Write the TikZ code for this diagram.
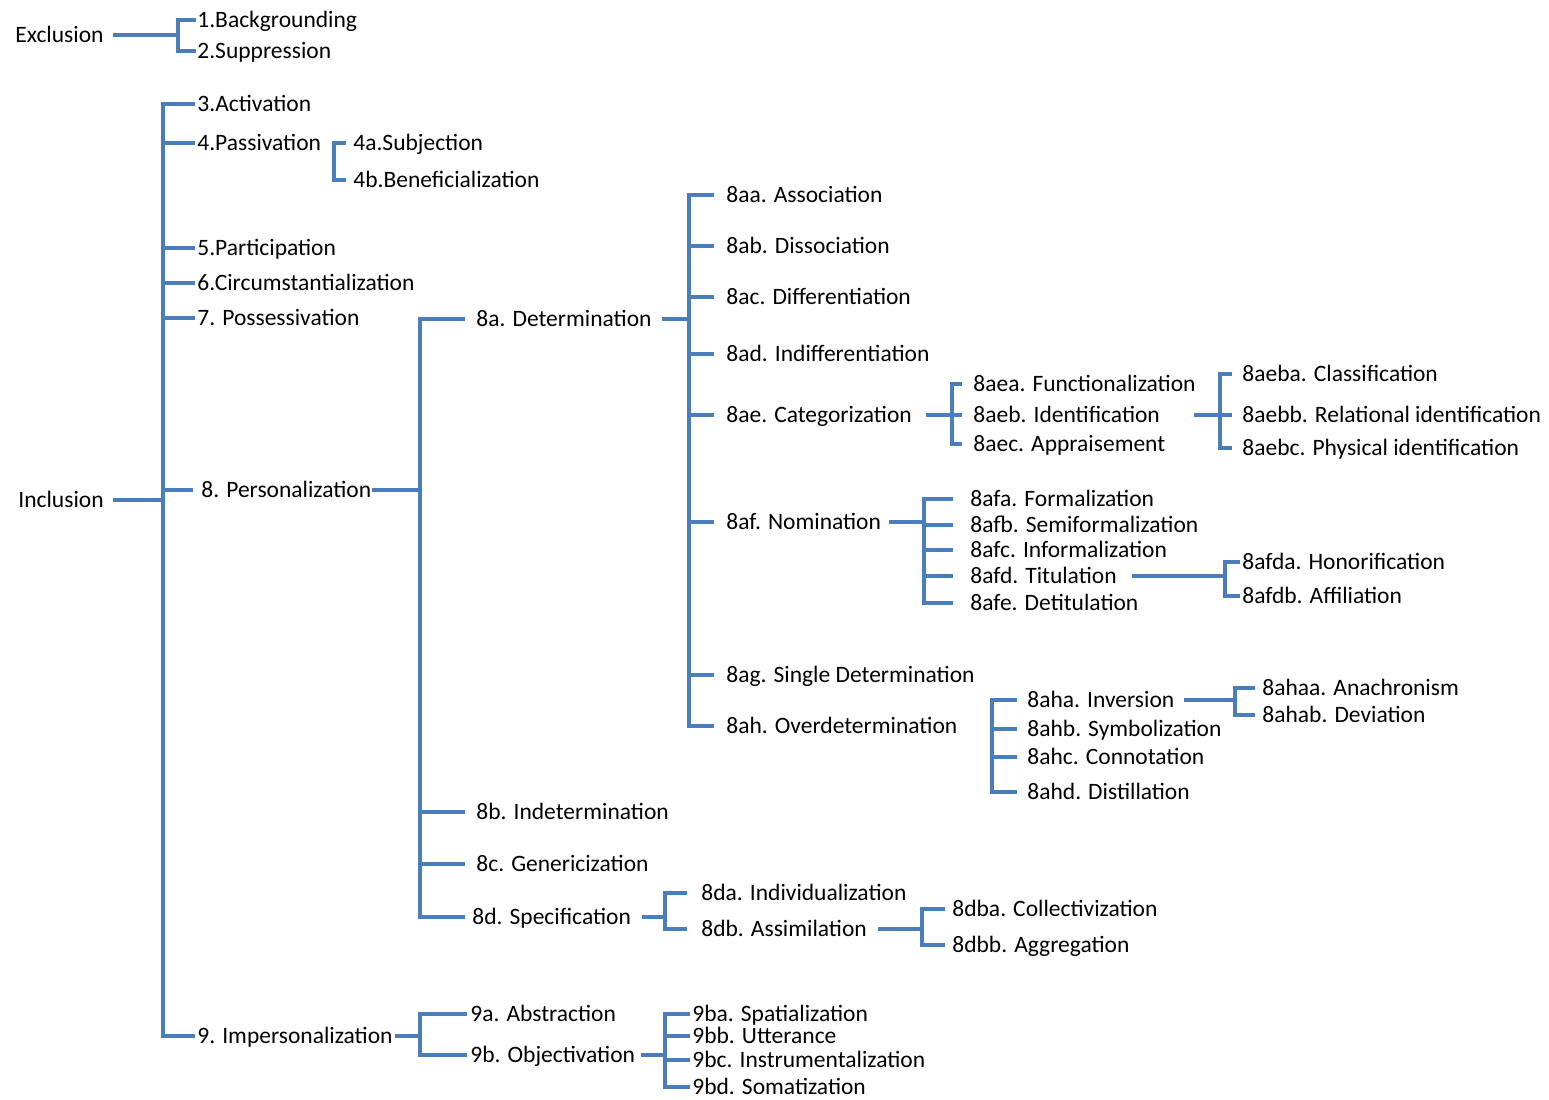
\documentclass[tikz,border=0pt]{standalone}
\usepackage{fontspec}
\setmainfont{Carlito}
\definecolor{lineblue}{RGB}{74,126,187}
\begin{document}
\begin{tikzpicture}[x=0.5pt,y=-0.5pt,
  lbl/.style={anchor=west,inner sep=0pt,text height=7.5pt,text depth=0pt,font=\fontsize{11.75}{13}\selectfont},
  ln/.style={draw=lineblue,line width=1.6pt}]
\fill[white] (0,0) rectangle (1549,1099);
\useasboundingbox (0,0) rectangle (1549,1099);
% ---------- nodes ----------
\node[lbl] (excl) at (15,35) {Exclusion};
\node[lbl] (bg) at (197,20) {1.Backgrounding};
\node[lbl] (sup) at (197,51) {2.Suppression};
\node[lbl] (incl) at (18,500) {Inclusion};
\node[lbl] (act) at (197,104) {3.Activation};
\node[lbl] (pas) at (197,143) {4.Passivation};
\node[lbl] (subj) at (353,143) {4a.Subjection};
\node[lbl] (bene) at (353,180) {4b.Beneficialization};
\node[lbl] (part) at (197,248) {5.Participation};
\node[lbl] (circ) at (197,283) {6.Circumstantialization};
\node[lbl] (poss) at (197,318) {7. Possessivation};
\node[lbl] (pers) at (201,490) {8. Personalization};
\node[lbl] (imp) at (197,1036) {9. Impersonalization};
\node[lbl] (det) at (476,319) {8a. Determination};
\node[lbl] (indet) at (476,812) {8b. Indetermination};
\node[lbl] (gen) at (476,864) {8c. Genericization};
\node[lbl] (spec) at (472,917) {8d. Specification};
\node[lbl] (aa) at (726,195) {8aa. Association};
\node[lbl] (ab) at (726,246) {8ab. Dissociation};
\node[lbl] (ac) at (726,297) {8ac. Differentiation};
\node[lbl] (ad) at (726,354) {8ad. Indifferentiation};
\node[lbl] (ae) at (726,415) {8ae. Categorization};
\node[lbl] (af) at (726,522) {8af. Nomination};
\node[lbl] (ag) at (726,675) {8ag. Single Determination};
\node[lbl] (ah) at (726,726) {8ah. Overdetermination};
\node[lbl] (aea) at (973,384) {8aea. Functionalization};
\node[lbl] (aeb) at (973,415) {8aeb. Identification};
\node[lbl] (aec) at (973,444) {8aec. Appraisement};
\node[lbl] (aeba) at (1242,374) {8aeba. Classification};
\node[lbl] (aebb) at (1242,415) {8aebb. Relational identification};
\node[lbl] (aebc) at (1242,448) {8aebc. Physical identification};
\node[lbl] (afa) at (970,499) {8afa. Formalization};
\node[lbl] (afb) at (970,525) {8afb. Semiformalization};
\node[lbl] (afc) at (970,550) {8afc. Informalization};
\node[lbl] (afd) at (970,576) {8afd. Titulation};
\node[lbl] (afe) at (970,603) {8afe. Detitulation};
\node[lbl] (afda) at (1242,562) {8afda. Honorification};
\node[lbl] (afdb) at (1242,596) {8afdb. Affiliation};
\node[lbl] (aha) at (1027,700) {8aha. Inversion};
\node[lbl] (ahb) at (1027,729) {8ahb. Symbolization};
\node[lbl] (ahc) at (1027,757) {8ahc. Connotation};
\node[lbl] (ahd) at (1027,792) {8ahd. Distillation};
\node[lbl] (ahaa) at (1262,688) {8ahaa. Anachronism};
\node[lbl] (ahab) at (1262,715) {8ahab. Deviation};
\node[lbl] (da) at (701,893) {8da. Individualization};
\node[lbl] (db) at (701,929) {8db. Assimilation};
\node[lbl] (dba) at (952,909) {8dba. Collectivization};
\node[lbl] (dbb) at (952,945) {8dbb. Aggregation};
\node[lbl] (abs) at (470,1014) {9a. Abstraction};
\node[lbl] (obj) at (470,1055) {9b. Objectivation};
\node[lbl] (ba) at (692,1014) {9ba. Spatialization};
\node[lbl] (bb) at (692,1036) {9bb. Utterance};
\node[lbl] (bc) at (692,1060) {9bc. Instrumentalization};
\node[lbl] (bd) at (692,1087) {9bd. Somatization};
% ---------- bracket x positions ----------
\coordinate (Bex) at (178,0);
\coordinate (Bin) at (163,0);
\coordinate (Bpa) at (334,0);
\coordinate (Bpe) at (420,0);
\coordinate (Bde) at (689,0);
\coordinate (Bca) at (952,0);
\coordinate (Bid) at (1220,0);
\coordinate (Bno) at (924,0);
\coordinate (Bti) at (1225,0);
\coordinate (Bov) at (992,0);
\coordinate (Biv) at (1235,0);
\coordinate (Bsp) at (665,0);
\coordinate (Bas) at (922,0);
\coordinate (Bim) at (420,0);
\coordinate (Bob) at (665,0);
% ---------- connectors ----------
% Exclusion
\draw[ln] ([xshift=4.5pt]excl.east) -- (Bex |- excl.east);
\draw[ln] ([xshift=-0.5pt]bg.west) -| (Bex |- sup.west) -- ([xshift=-0.5pt]sup.west);
% Inclusion
\draw[ln] ([xshift=4.5pt]incl.east) -- (Bin |- incl.east);
\draw[ln] ([xshift=-1pt]act.west) -| (Bin |- imp.west) -- ([xshift=-1pt]imp.west);
\foreach \n in {pas,part,circ,poss} \draw[ln] (Bin |- \n.west) -- ([xshift=-1pt]\n.west);
\draw[ln] (Bin |- pers.west) -- ([xshift=-4pt]pers.west);
% Passivation
\draw[ln] ([xshift=-3.5pt]subj.west) -| (Bpa |- bene.west) -- ([xshift=-3.5pt]bene.west);
% Personalization
\draw[ln] (pers.east) -- (Bpe |- pers.east);
\draw[ln] ([xshift=-5.5pt]det.west) -| (Bpe |- spec.west) -- ([xshift=-3.5pt]spec.west);
\foreach \n in {indet,gen} \draw[ln] (Bpe |- \n.west) -- ([xshift=-5.5pt]\n.west);
% Determination
\draw[ln] ([xshift=5pt]det.east) -- (Bde |- det.east);
\draw[ln] ([xshift=-6pt]aa.west) -| (Bde |- ah.west) -- ([xshift=-6pt]ah.west);
\foreach \n in {ab,ac,ad,ae,af,ag} \draw[ln] (Bde |- \n.west) -- ([xshift=-6pt]\n.west);
% Categorization
\draw[ln] ([xshift=7pt]ae.east) -- (Bca |- ae.east);
\draw[ln] ([xshift=-5.5pt]aea.west) -| (Bca |- aec.west) -- ([xshift=-5.5pt]aec.west);
\draw[ln] (Bca |- aeb.west) -- ([xshift=-5.5pt]aeb.west);
% Identification
\draw[ln] ([xshift=17pt]aeb.east) -- (Bid |- aeb.east);
\draw[ln] ([xshift=-5pt]aeba.west) -| (Bid |- aebc.west) -- ([xshift=-5pt]aebc.west);
\draw[ln] (Bid |- aebb.west) -- ([xshift=-5pt]aebb.west);
% Nomination
\draw[ln] ([xshift=4pt]af.east) -- (Bno |- af.east);
\draw[ln] ([xshift=-8.5pt]afa.west) -| (Bno |- afe.west) -- ([xshift=-8.5pt]afe.west);
\foreach \n in {afb,afc,afd} \draw[ln] (Bno |- \n.west) -- ([xshift=-8.5pt]\n.west);
% Titulation
\draw[ln] ([xshift=7.5pt]afd.east) -- (Bti |- afd.east);
\draw[ln] ([xshift=-1pt]afda.west) -| (Bti |- afdb.west) -- ([xshift=-1pt]afdb.west);
% Overdetermination
\draw[ln] ([xshift=-5pt]aha.west) -| (Bov |- ahd.west) -- ([xshift=-5pt]ahd.west);
\foreach \n in {ahb,ahc} \draw[ln] (Bov |- \n.west) -- ([xshift=-5pt]\n.west);
% Inversion
\draw[ln] ([xshift=4.5pt]aha.east) -- (Biv |- aha.east);
\draw[ln] ([xshift=-3.5pt]ahaa.west) -| (Biv |- ahab.west) -- ([xshift=-3.5pt]ahab.west);
% Specification
\draw[ln] ([xshift=5.5pt]spec.east) -- (Bsp |- spec.east);
\draw[ln] ([xshift=-7pt]da.west) -| (Bsp |- db.west) -- ([xshift=-7pt]db.west);
% Assimilation
\draw[ln] ([xshift=5.5pt]db.east) -- (Bas |- db.east);
\draw[ln] ([xshift=-3.5pt]dba.west) -| (Bas |- dbb.west) -- ([xshift=-3.5pt]dbb.west);
% Impersonalization
\draw[ln] ([xshift=1pt]imp.east) -- (Bim |- imp.east);
\draw[ln] ([xshift=-1.5pt]abs.west) -| (Bim |- obj.west) -- ([xshift=-1.5pt]obj.west);
% Objectivation
\draw[ln] ([xshift=3pt]obj.east) -- (Bob |- obj.east);
\draw[ln] ([xshift=-1pt]ba.west) -| (Bob |- bd.west) -- ([xshift=-1pt]bd.west);
\foreach \n in {bb,bc} \draw[ln] (Bob |- \n.west) -- ([xshift=-1pt]\n.west);
\end{tikzpicture}
\end{document}
